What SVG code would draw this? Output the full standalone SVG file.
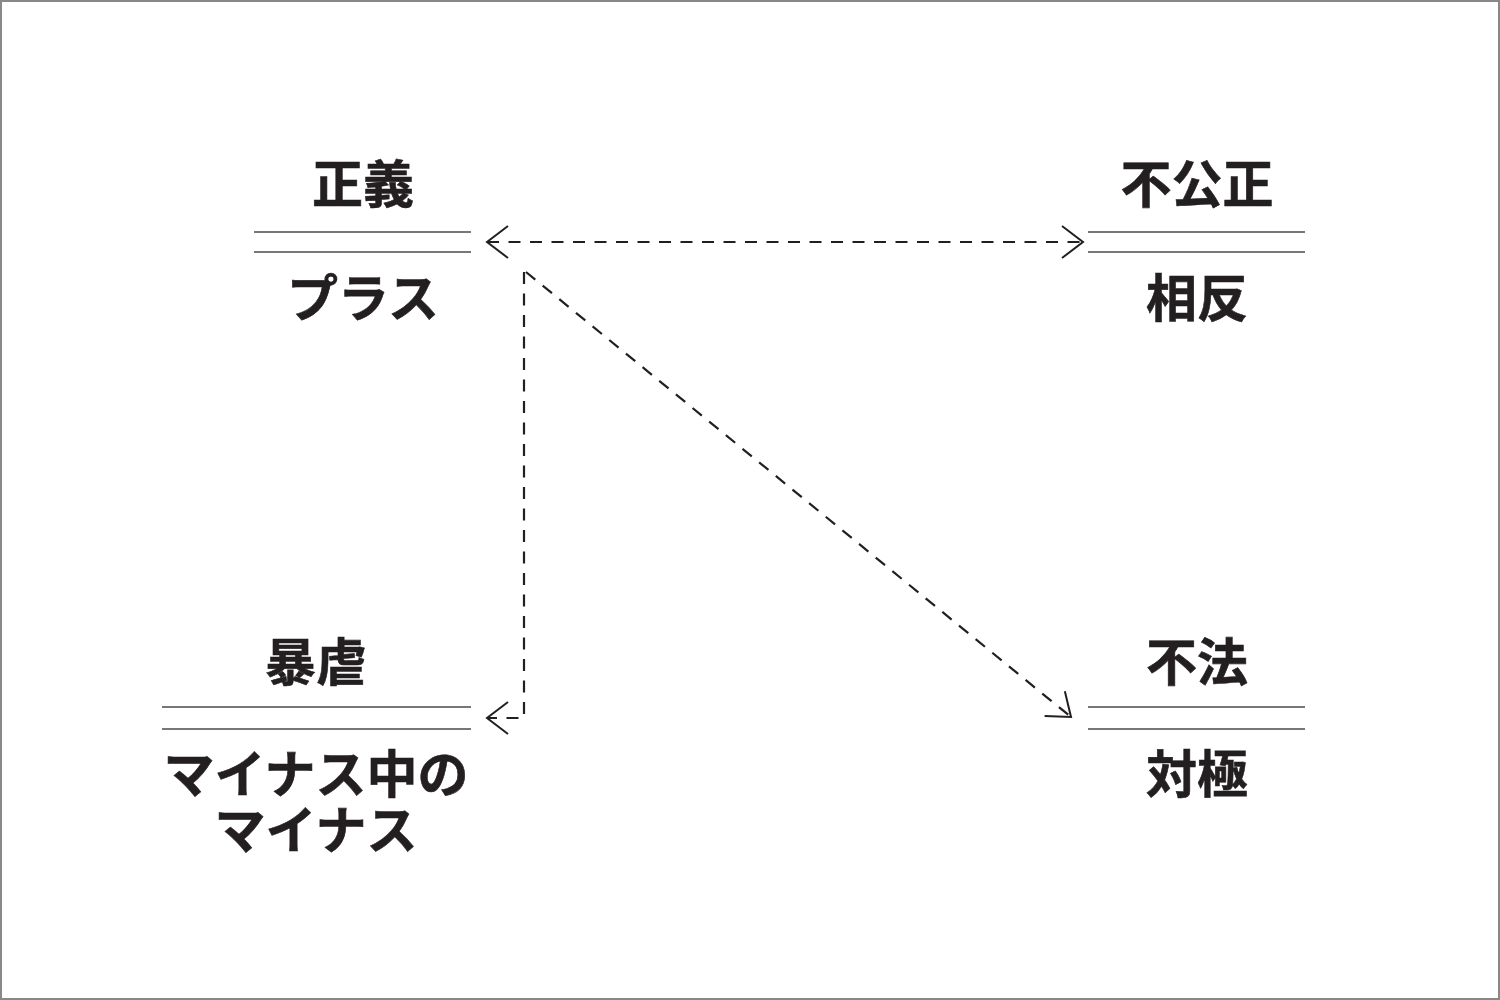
<svg xmlns="http://www.w3.org/2000/svg" width="1500" height="1000" viewBox="0 0 1500 1000">
<style>
  .lbl { font-family: "Noto Sans CJK JP", "Noto Sans", sans-serif; font-weight: 700; font-size: 51px; fill: #231f20; text-anchor: middle; stroke: #231f20; stroke-width: 0.6; }
  .bar { stroke: #4a4a4a; stroke-width: 1.6; fill: none; }
  .conn { stroke: #231f20; stroke-width: 2.2; fill: none; stroke-dasharray: 12 9.5; }
  .head { stroke: #231f20; stroke-width: 2; fill: none; }
</style>
<defs>
  <marker id="chev" viewBox="-30 -20 32 40" refX="0" refY="0" markerWidth="32" markerHeight="40" markerUnits="userSpaceOnUse" orient="auto-start-reverse">
    <path d="M -21 -16 L 0 0 L -21 16" class="head"/>
  </marker>
</defs>
<rect x="1" y="1" width="1498" height="998" fill="#ffffff" stroke="#888888" stroke-width="2"/>

<g id="node-seigi">
  <text class="lbl" x="363" y="203">正義</text>
  <line class="bar" x1="254" y1="232" x2="471" y2="232"/>
  <line class="bar" x1="254" y1="252" x2="471" y2="252"/>
  <text class="lbl" x="363" y="317">プラス</text>
</g>
<g id="node-fukousei">
  <text class="lbl" x="1197" y="203">不公正</text>
  <line class="bar" x1="1088" y1="232" x2="1305" y2="232"/>
  <line class="bar" x1="1088" y1="252" x2="1305" y2="252"/>
  <text class="lbl" x="1197" y="317">相反</text>
</g>
<g id="node-bogyaku">
  <text class="lbl" x="316" y="681">暴虐</text>
  <line class="bar" x1="162" y1="707" x2="471" y2="707"/>
  <line class="bar" x1="162" y1="729" x2="471" y2="729"/>
  <text class="lbl" x="316" y="793">マイナス中の<tspan x="316" dy="56">マイナス</tspan></text>
</g>
<g id="node-fuhou">
  <text class="lbl" x="1197" y="681">不法</text>
  <line class="bar" x1="1088" y1="707" x2="1305" y2="707"/>
  <line class="bar" x1="1088" y1="729" x2="1305" y2="729"/>
  <text class="lbl" x="1197" y="793">対極</text>
</g>

<g id="connectors">
  <line class="conn" x1="487" y1="242" x2="1083" y2="242" marker-start="url(#chev)" marker-end="url(#chev)"/>
  <polyline class="conn" points="524,272 524,718 487,718" marker-end="url(#chev)"/>
  <line class="conn" x1="526" y1="272" x2="1071" y2="717" marker-end="url(#chev)"/>
</g>
</svg>
